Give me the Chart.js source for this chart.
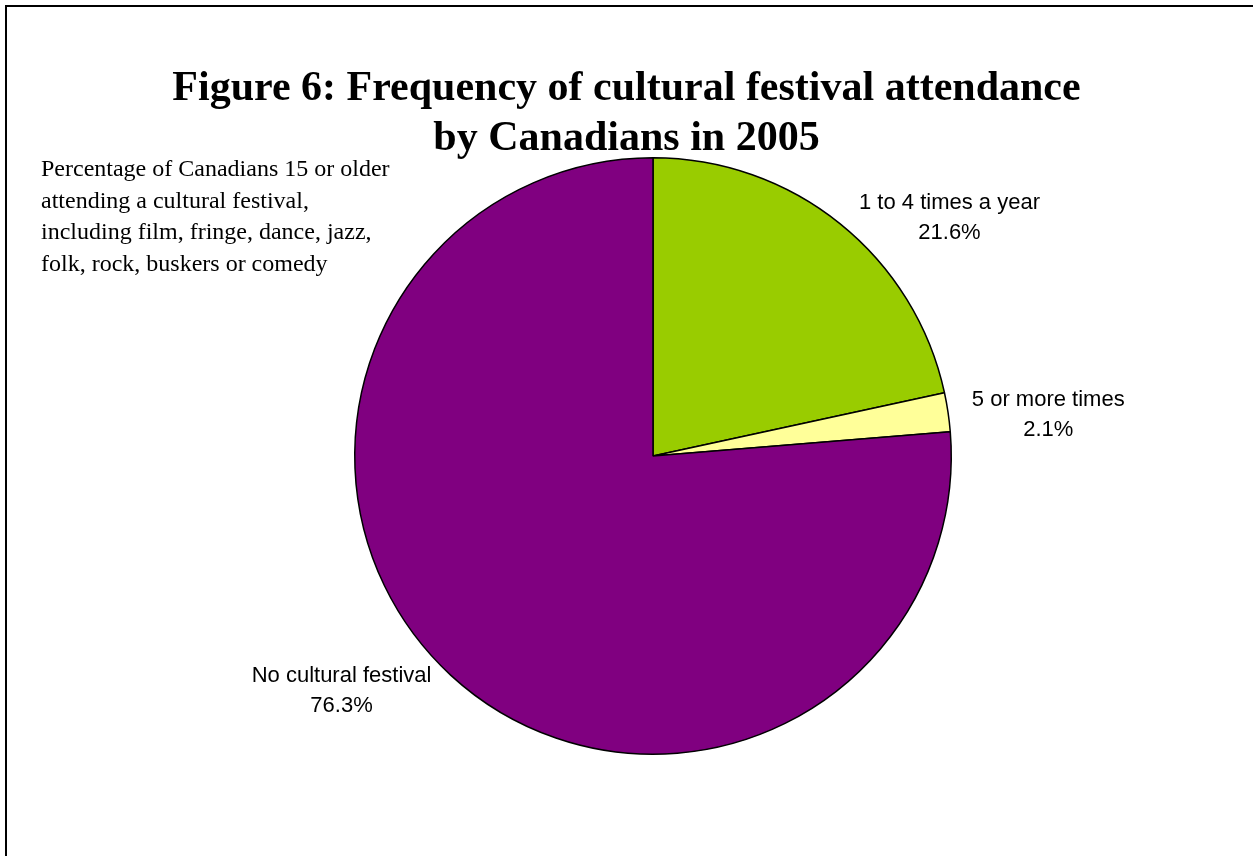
<!DOCTYPE html>
<html>
<head>
<meta charset="utf-8">
<script src="https://cdn.jsdelivr.net/npm/chart.js@4.4.0/dist/chart.umd.min.js"></script>
<style>
    html, body { margin: 0; padding: 0; background: #ffffff; overflow: hidden; }
    #wrap { position: relative; width: 1253px; height: 856px; }
</style>
</head>
<body>
<div id="wrap"><canvas id="festivalChart" width="1253" height="856"></canvas></div>
<script>
const categories = ['1 to 4 times a year', '5 or more times', 'No cultural festival'];
const shares = [21.6, 2.1, 76.3];
const sliceColors = ['#99cc00', '#ffff99', '#800080'];

const titleLines = ['Figure 6: Frequency of cultural festival attendance', 'by Canadians in 2005'];
const noteLines = [
    'Percentage of Canadians 15 or older',
    'attending a cultural festival,',
    'including film, fringe, dance, jazz,',
    'folk, rock, buskers or comedy'
];

// frame, title, note and the outside slice labels
const textPlugin = {
    id: 'textPlugin',
    beforeDraw(chart) {
        const ctx = chart.ctx;
        ctx.save();
        ctx.fillStyle = '#000';
        ctx.fillRect(5, 5, chart.width, 2);
        ctx.fillRect(5, 5, 2, chart.height);
        ctx.restore();
    },
    afterDraw(chart) {
        const ctx = chart.ctx;
        ctx.save();
        ctx.fillStyle = '#000';
        ctx.textBaseline = 'middle';

        ctx.font = 'bold 42px "Liberation Serif", serif';
        ctx.textAlign = 'center';
        titleLines.forEach((line, i) => {
            ctx.fillText(line, chart.width / 2, 89 + i * 50);
        });

        ctx.font = '24px "Liberation Serif", serif';
        ctx.textAlign = 'left';
        ctx.textBaseline = 'alphabetic';
        noteLines.forEach((line, i) => {
            ctx.fillText(line, 41, 176 + i * 31.6);
        });

        const meta = chart.getDatasetMeta(0);
        ctx.font = '22px "Liberation Sans", Arial, sans-serif';
        ctx.textBaseline = 'middle';
        ctx.textAlign = 'center';
        meta.data.forEach((arc, i) => {
            const p = arc.getProps(['x', 'y', 'startAngle', 'endAngle', 'outerRadius'], true);
            const mid = (p.startAngle + p.endAngle) / 2;
            const r = p.outerRadius + 14;
            const ax = p.x + Math.cos(mid) * r;
            const ay = p.y + Math.sin(mid) * r + 5;
            const lines = [categories[i], shares[i].toFixed(1) + '%'];
            const w = Math.max(...lines.map(l => ctx.measureText(l).width));
            const cx = Math.cos(mid) >= 0 ? ax + 10 + w / 2 : ax - 10 - w / 2;
            lines.forEach((l, j) => {
                ctx.fillText(l, cx, ay - 15 + j * 30);
            });
        });
        ctx.restore();
    }
};

const ctx = document.getElementById('festivalChart').getContext('2d');
new Chart(ctx, {
    type: 'pie',
    data: {
        labels: categories,
        datasets: [{
            data: shares,
            backgroundColor: sliceColors,
            borderColor: '#000000',
            borderWidth: 1.5,
            clip: false
        }]
    },
    options: {
        responsive: false,
        animation: false,
        layout: {
            padding: { top: 157, bottom: 101, left: 353, right: 300 }
        },
        plugins: {
            legend: { display: false },
            tooltip: { enabled: false },
            title: { display: false }
        }
    },
    plugins: [textPlugin]
});
</script>
</body>
</html>
